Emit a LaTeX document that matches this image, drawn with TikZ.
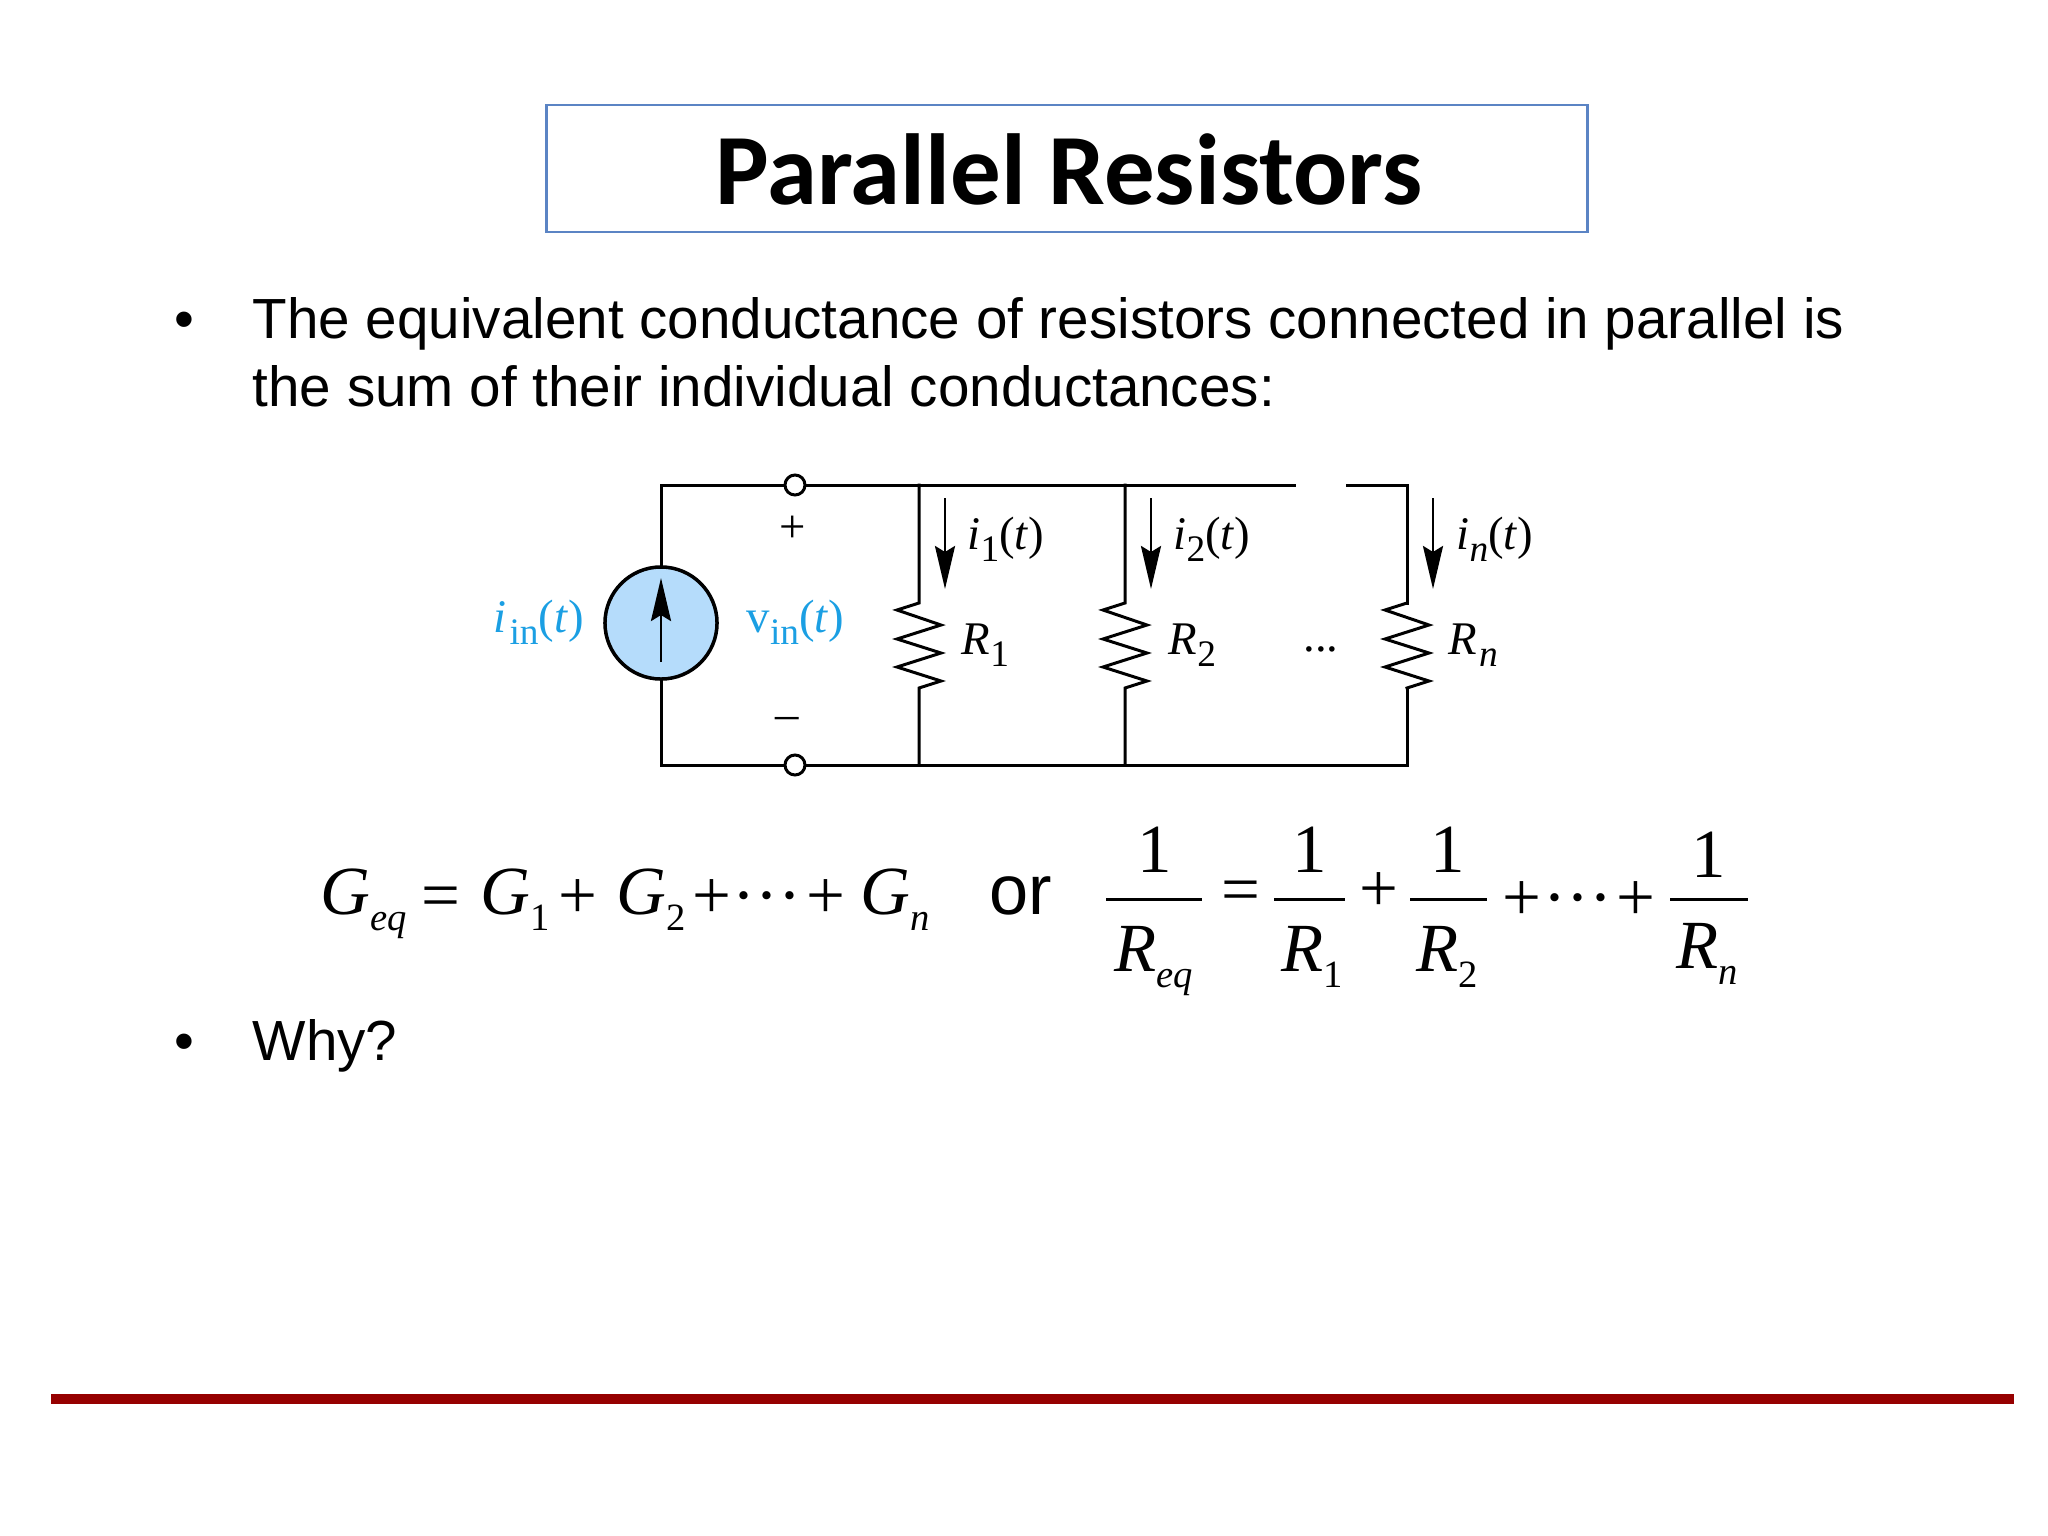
\documentclass[tikz,border=0pt]{standalone}
\usepackage{fontspec}
\setmainfont{Liberation Sans}
\newfontfamily\titlefont{Carlito}
\newfontfamily\eqfont{Liberation Serif}
\usetikzlibrary{positioning}
\usetikzlibrary{arrows.meta}
\definecolor{barred}{HTML}{960000}
\definecolor{srcfill}{HTML}{B5DCFB}
\definecolor{srcblue}{HTML}{1B9FE3}
\definecolor{boxblue}{HTML}{5B84C4}
% small letters set low, for the indices
\newcommand{\lowtxt}[1]{\raisebox{-.26em}{\scalebox{.8}{#1}}}
\newcommand{\eqlow}[1]{\raisebox{-.24em}{\scalebox{.56}{#1}}}
\newcommand{\zigzagbody}{-- ++(-22,7) -- ++(44,15) -- ++(-44,14) -- ++(44,14) -- ++(-44,14) -- ++(44,14)}
\tikzset{
	wire/.style={line width=.85pt,line cap=rect},
	branch/.style={-{Stealth[length=.43cm,width=.2cm,inset=.06cm]},line width=.75pt},
	terminal/.style={circle,draw=black,fill=white,line width=.85pt,minimum size=.2cm,inner sep=0pt,outer sep=0pt},
	circlabel/.style={font=\eqfont\fontsize{13.3}{13.3}\selectfont,inner sep=0pt,anchor=base west},
	eqn/.style={font=\eqfont\fontsize{19.6}{19.6}\selectfont,inner sep=0pt,anchor=base west},
	one/.style={font=\eqfont\fontsize{19.6}{19.6}\selectfont,inner sep=0pt,anchor=base},
	bodytxt/.style={font=\fontsize{16.09}{16.09}\selectfont,inner sep=0pt,anchor=base west},
}
\begin{document}
\begin{tikzpicture}[x=.01cm,y=-.01cm,>=latex]
	\useasboundingbox (0,0) rectangle (2048,1536);

	\node [draw=boxblue,line width=.7pt,minimum width=10.4cm,minimum height=1.27cm,outer sep=0pt] at (1067,168.5) (title_box) {};
	\node [font=\titlefont\bfseries\fontsize{28.7}{28.7}\selectfont,inner sep=0pt,anchor=base] at (1069,204) (title_txt) {Parallel Resistors};

	\node [bodytxt,anchor=base] at (184,338) (bullet_1) {•};
	\node [bodytxt] at (252,338) (body_1) {The equivalent conductance of resistors connected in parallel is};
	\node [bodytxt] at (252,406) (body_2) {the sum of their individual conductances:};

	% circuit
	\node [circle,draw=black,fill=srcfill,line width=1pt,minimum size=1.12cm,inner sep=0pt,outer sep=0pt] at (661,623) (src) {};
	\node [terminal] at (795,485) (term_top) {};
	\node [terminal] at (795,765) (term_bot) {};
	\coordinate (corner_tl) at (661,485);
	\coordinate (corner_bl) at (661,765);
	\coordinate (r1_top) at (919,485);
	\coordinate (r1_bot) at (919,765);
	\coordinate (r2_top) at (1125,485);
	\coordinate (r2_bot) at (1125,765);
	\coordinate (rn_top) at (1407,485);
	\coordinate (rn_bot) at (1407,765);
	\coordinate (gap_l) at (1294,485);
	\coordinate (gap_r) at (1347,485);
	\coordinate (r1_a) at (919,603);
	\coordinate (r1_b) at (919,688);
	\coordinate (r2_a) at (1125,603);
	\coordinate (r2_b) at (1125,688);
	\coordinate (rn_a) at (1407,603);
	\coordinate (rn_b) at (1407,688);

	\draw [wire] (src.north) -- (corner_tl) -- (term_top.west);
	\draw [wire] (term_top.east) -- (r1_top) -- (r2_top) -- (gap_l);
	\draw [wire] (gap_r) -- (rn_top) -- (rn_a);
	\draw [wire] (src.south) -- (corner_bl) -- (term_bot.west);
	\draw [wire] (term_bot.east) -- (r1_bot) -- (r2_bot) -- (rn_bot) -- (rn_b);
	\draw [wire] (r1_top) -- (r1_a) \zigzagbody -- (r1_b) -- (r1_bot);
	\draw [wire] (r2_top) -- (r2_a) \zigzagbody -- (r2_b) -- (r2_bot);
	\draw [wire] (rn_a) \zigzagbody -- (rn_b);

	\coordinate (src_tail) at (661,662);
	\coordinate (src_tip) at (661,578);
	\draw [branch] (src_tail) -- (src_tip);
	\coordinate (i1_tail) at (945,498);
	\coordinate (i1_tip) at (945,589);
	\draw [branch] (i1_tail) -- (i1_tip);
	\coordinate (i2_tail) at (1151,498);
	\coordinate (i2_tip) at (1151,589);
	\draw [branch] (i2_tail) -- (i2_tip);
	\coordinate (in_tail) at (1433,498);
	\coordinate (in_tip) at (1433,589);
	\draw [branch] (in_tail) -- (in_tip);

	\node [circlabel,text=srcblue] at (493,632) (iin_lab) {\textit{i}\kern.06em\lowtxt{in}(\textit{t})};
	\node [circlabel,text=srcblue] at (746,632) (vin_lab) {v\lowtxt{in}(\textit{t})};
	\node [circlabel] at (967,549) (i1_lab) {\textit{i}\lowtxt{1}(\textit{t})};
	\node [circlabel] at (1173,549) (i2_lab) {\textit{i}\lowtxt{2}(\textit{t})};
	\node [circlabel] at (1456,549) (in_lab) {\textit{i}\lowtxt{\textit{n}}(\textit{t})};
	\node [circlabel] at (961,654) (r1_lab) {\textit{R}\lowtxt{1}};
	\node [circlabel] at (1168,654) (r2_lab) {\textit{R}\lowtxt{2}};
	\node [circlabel] at (1448,654) (rn_lab) {\textit{R}\kern.04em\lowtxt{\textit{n}}};
	\node [circlabel,anchor=base] at (1321,651) (dots_lab) {...};
	\node [circlabel,anchor=center] at (793,529) (plus_lab) {+};
	\node [circlabel,anchor=center] at (787,723) (minus_lab) {–};

	% left equation
	\node [eqn] at (320,914) (geq) {\textit{G}\eqlow{\textit{eq}}};
	\node [eqn] at (421,918) (geq_eq) {=};
	\node [eqn] at (480,914) (g1) {\textit{G}\eqlow{1}};
	\node [eqn] at (558,918) (g1_plus) {+};
	\node [eqn] at (616,914) (g2) {\textit{G}\eqlow{2}};
	\node [eqn] at (692,918) (g2_plus) {+};
	\node [eqn,anchor=base] at (767,918) (g_dots) {···};
	\node [eqn] at (806,918) (gn_plus) {+};
	\node [eqn] at (860,914) (gn) {\textit{G}\eqlow{\textit{n}}};
	\node [font=\fontsize{20}{20}\selectfont,inner sep=0pt,anchor=base west] at (989,914) (or_txt) {or};

	% right equation
	\coordinate (bar0_l) at (1106,899);
	\coordinate (bar0_r) at (1202,899);
	\draw [wire,line cap=butt] (bar0_l) -- (bar0_r);
	\coordinate (bar1_l) at (1274,899);
	\coordinate (bar1_r) at (1345,899);
	\draw [wire,line cap=butt] (bar1_l) -- (bar1_r);
	\coordinate (bar2_l) at (1410,899);
	\coordinate (bar2_r) at (1487,899);
	\draw [wire,line cap=butt] (bar2_l) -- (bar2_r);
	\coordinate (bar3_l) at (1670,899);
	\coordinate (bar3_r) at (1748,899);
	\draw [wire,line cap=butt] (bar3_l) -- (bar3_r);
	\node [one] at (1155,872) (one0) {1};
	\node [one] at (1310,872) (one1) {1};
	\node [one] at (1448,872) (one2) {1};
	\node [one] at (1709,877) (one3) {1};
	\node [eqn] at (1114,971) (req) {\textit{R}\eqlow{\textit{eq}}};
	\node [eqn] at (1281,971) (r1_den) {\textit{R}\eqlow{1}};
	\node [eqn] at (1416,971) (r2_den) {\textit{R}\eqlow{2}};
	\node [eqn] at (1676,968) (rn_den) {\textit{R}\eqlow{\textit{n}}};
	\node [eqn] at (1221,912) (req_eq) {=};
	\node [eqn] at (1359,911) (r_plus1) {+};
	\node [eqn] at (1502,920) (r_plus2) {+};
	\node [eqn,anchor=base] at (1578,920) (r_dots) {···};
	\node [eqn] at (1616,920) (r_plus3) {+};

	\node [bodytxt,anchor=base] at (184,1060) (bullet_2) {•};
	\node [bodytxt] at (252,1060) (body_3) {Why?};

	\fill [barred] (51,1394) rectangle (2014,1404);
\end{tikzpicture}
\end{document}
